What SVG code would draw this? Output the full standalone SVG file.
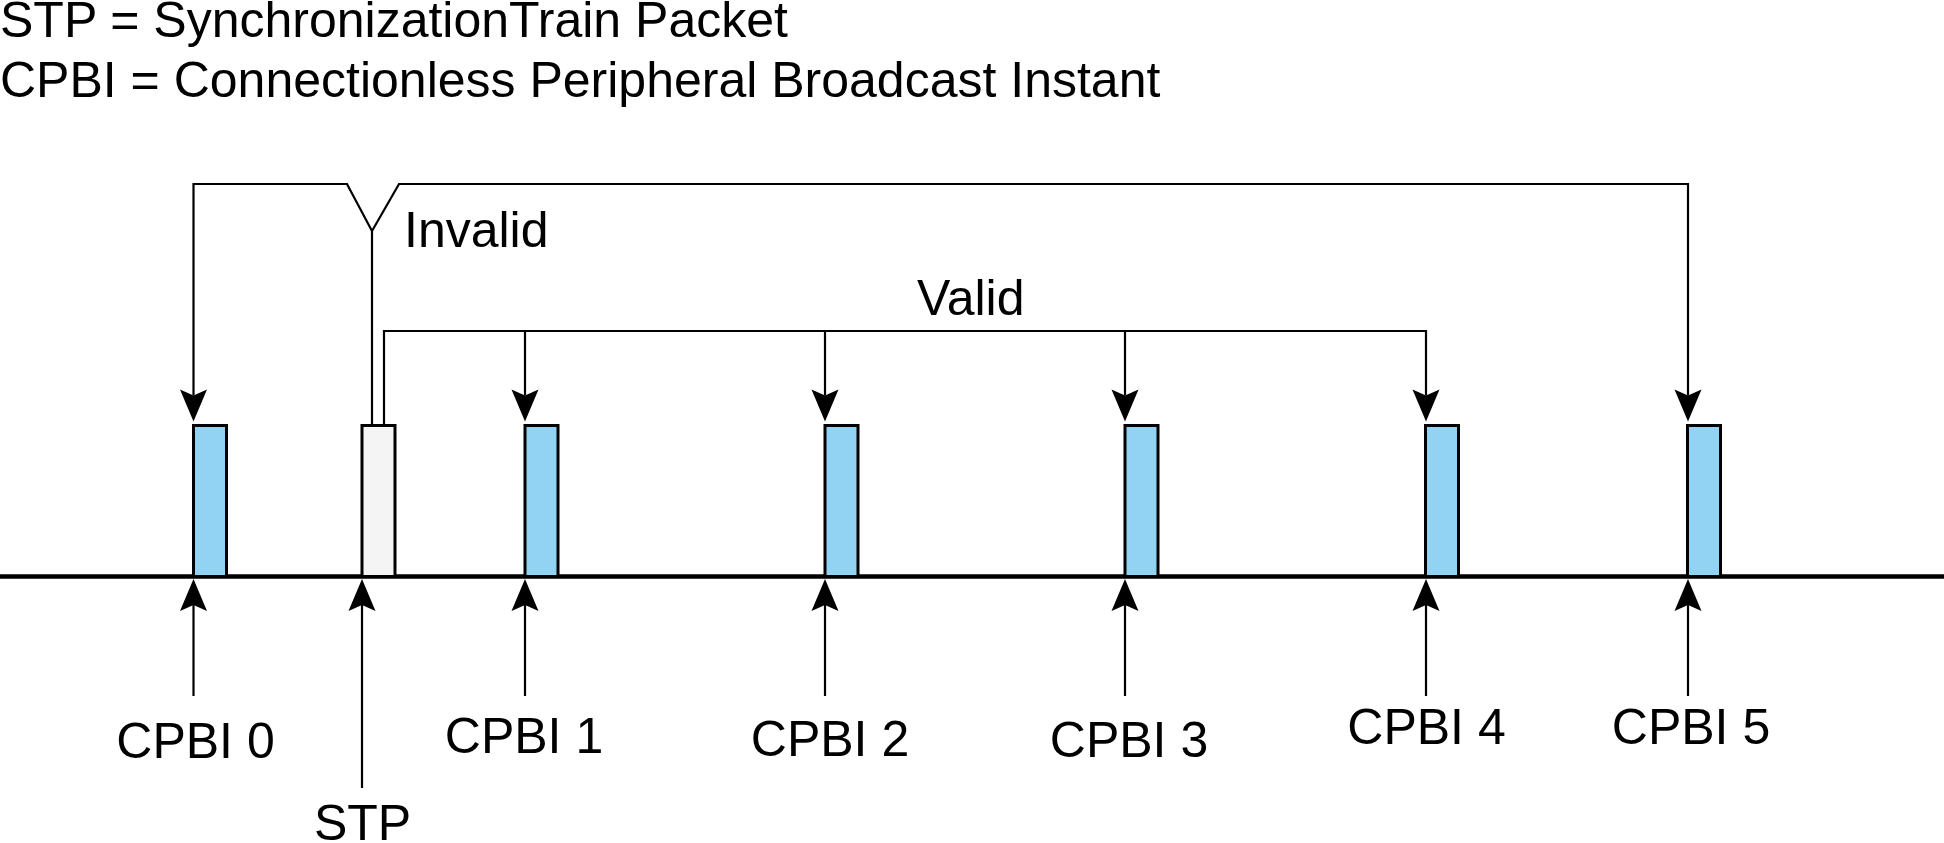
<svg xmlns="http://www.w3.org/2000/svg" width="1944" height="843" viewBox="0 0 1944 843">
<style>
text{font-family:"Liberation Sans",Arial,sans-serif;font-size:50px;fill:#000}
.lbl{text-anchor:middle}
.slot{fill:#92d2f2;stroke:#000;stroke-width:3}
.stp{fill:#f4f4f4;stroke:#000;stroke-width:3}
.ln{fill:none;stroke:#000;stroke-width:2.2}
.base{stroke:#000;stroke-width:4.5}
</style>
<defs>
<marker id="ah" viewBox="-8 -15 36 30" markerWidth="36" markerHeight="30" refX="0" refY="0" orient="auto-start-reverse" markerUnits="userSpaceOnUse">
<path d="M-6,-13.5 L26,0 L-6,13.5 L0,0 Z" fill="#000"/>
</marker>
</defs>
<rect width="1944" height="843" fill="#fff"/>
<g id="legend">
<text x="0" y="37">STP = SynchronizationTrain Packet</text>
<text x="0" y="97">CPBI = Connectionless Peripheral Broadcast Instant</text>
</g>
<line id="timeline" class="base" x1="0" y1="576.5" x2="1944" y2="576.5"/>
<g id="connectors">
<path class="ln" d="M193.5,395.5 V184 H347 L372,231 L399,184 H1688 V395.5" marker-start="url(#ah)" marker-end="url(#ah)"/>
<path class="ln" d="M372,231 V425"/>
<path class="ln" d="M384,425 V331 H1426 V395.5" marker-end="url(#ah)"/>
<path class="ln" d="M525,331 V395.5" marker-end="url(#ah)"/>
<path class="ln" d="M825,331 V395.5" marker-end="url(#ah)"/>
<path class="ln" d="M1125,331 V395.5" marker-end="url(#ah)"/>
<path class="ln" d="M193.5,696 V605" marker-end="url(#ah)"/>
<path class="ln" d="M362,788 V605" marker-end="url(#ah)"/>
<path class="ln" d="M525,696 V605" marker-end="url(#ah)"/>
<path class="ln" d="M825,696 V605" marker-end="url(#ah)"/>
<path class="ln" d="M1125,696 V605" marker-end="url(#ah)"/>
<path class="ln" d="M1426,696 V605" marker-end="url(#ah)"/>
<path class="ln" d="M1688,696 V605" marker-end="url(#ah)"/>
</g>
<g id="labels">
<text x="404" y="247">Invalid</text>
<text x="917" y="315">Valid</text>
</g>
<g id="cpbi0"><rect class="slot" x="193.5" y="425.5" width="33" height="151"/><text class="lbl" x="195.5" y="758">CPBI 0</text></g>
<g id="stp"><rect class="stp" x="362" y="425.5" width="33" height="151"/><text class="lbl" x="362.5" y="840">STP</text></g>
<g id="cpbi1"><rect class="slot" x="525" y="425.5" width="33" height="151"/><text class="lbl" x="524" y="753">CPBI 1</text></g>
<g id="cpbi2"><rect class="slot" x="825" y="425.5" width="33" height="151"/><text class="lbl" x="830" y="756">CPBI 2</text></g>
<g id="cpbi3"><rect class="slot" x="1125" y="425.5" width="33" height="151"/><text class="lbl" x="1129" y="757">CPBI 3</text></g>
<g id="cpbi4"><rect class="slot" x="1425.5" y="425.5" width="33" height="151"/><text class="lbl" x="1426.5" y="744">CPBI 4</text></g>
<g id="cpbi5"><rect class="slot" x="1687.5" y="425.5" width="33" height="151"/><text class="lbl" x="1691" y="744">CPBI 5</text></g>
</svg>
